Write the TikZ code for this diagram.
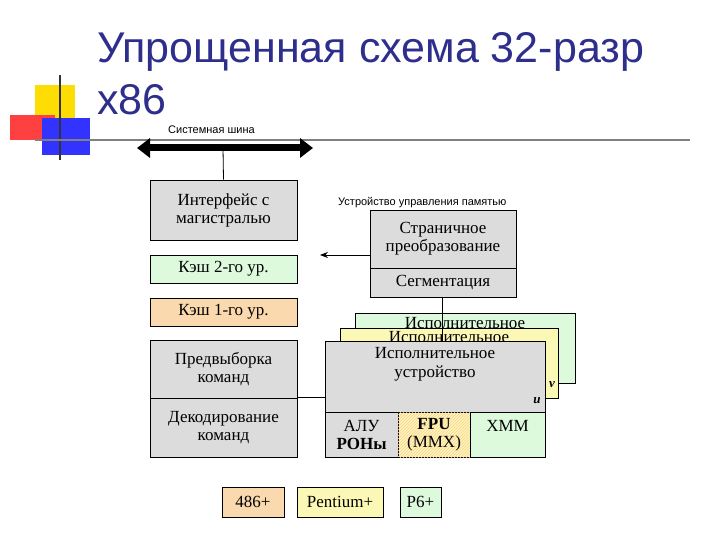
\documentclass[tikz,border=0pt]{standalone}
\usepackage{fontspec}
\setmainfont{Liberation Serif}
\newfontfamily\ttl{Liberation Sans}
\usetikzlibrary{arrows.meta,patterns}
\definecolor{gb}{HTML}{DCDCDC}
\definecolor{gg}{HTML}{DDFADD}
\definecolor{go}{HTML}{FAD9AE}
\definecolor{gy}{HTML}{FBF7B5}
\definecolor{tb}{HTML}{2E2E8C}
\tikzset{bx/.style={draw=black,line width=0.8pt,inner sep=0pt,font=\fontsize{17}{18}\selectfont,align=center},
ln/.style={line width=0.8pt}}
\begin{document}
\begin{tikzpicture}[x=1pt,y=-1pt]
\useasboundingbox (0,0) rectangle (720,540);
% logo
\fill[yellow!80!orange] (35,85) rectangle (75,120);
\fill[red!75] (10,115) rectangle (55,140);
\fill[blue!80] (42,118) rectangle (90,155);
\draw[line width=1.5pt,black!80] (60,75) -- (60,160);
\draw[line width=1.2pt,gray] (35,140) -- (690,140);
\node[anchor=west,text=tb,font=\ttl\fontsize{43}{48}\selectfont,inner sep=0pt] (t1) at (97,52) {Упрощенная схема 32-разр};
\node[anchor=west,text=tb,font=\ttl\fontsize{43}{48}\selectfont,inner sep=0pt] (t2) at (97,100) {x86};
\node[anchor=west,font=\ttl\fontsize{11}{12}\selectfont,inner sep=0pt] (sb) at (168,130) {Системная шина};
\coordinate (bl) at (137,148); \coordinate (br) at (313,148);
\draw[line width=7pt,{Triangle[length=13pt,width=19pt]}-{Triangle[length=13pt,width=19pt]}] (bl) -- (br);
% left column
\node[bx,fill=gb,minimum width=147pt,minimum height=60pt] (if) at (223.5,210) {Интерфейс с\\магистралью};
\coordinate (bm) at (223,148);
\draw[ln] (bm) -- (if.north);
\node[bx,fill=gg,minimum width=147pt,minimum height=28pt] (k2) at (223.5,269) {Кэш 2-го ур.};
\node[bx,fill=go,minimum width=147pt,minimum height=28pt] (k1) at (223.5,312) {Кэш 1-го ур.};
\node[bx,fill=gb,minimum width=147pt,minimum height=58pt] (pv) at (223.5,369) {Предвыборка\\команд};
\node[bx,fill=gb,minimum width=147pt,minimum height=59pt] (dk) at (223.5,427.5) {Декодирование\\команд};
% MMU
\node[anchor=west,font=\ttl\fontsize{11}{12}\selectfont,inner sep=0pt] (mmu) at (338,203) {Устройство управления памятью};
\node[bx,fill=gb,minimum width=146pt,minimum height=58pt] (st) at (443,239) {Страничное\\преобразование};
\node[bx,fill=gb,minimum width=146pt,minimum height=29pt] (sg) at (443,282.5) {Сегментация};
\coordinate (ae) at (320,255);
\draw[ln,-{Stealth[length=8pt]}] (st.west |- 0,255) -- (ae);
% execution units
\node[bx,fill=gg,minimum width=220pt,minimum height=70pt] (e3) at (465,348) {};
\node[font=\fontsize{17}{18}\selectfont,inner sep=0pt] (e3t) at (465,323) {Исполнительное};
\node[bx,fill=gy,minimum width=218pt,minimum height=70pt] (e2) at (449,363) {};
\node[font=\fontsize{17}{18}\selectfont,inner sep=0pt] (e2t) at (449,337) {Исполнительное};
\node[font=\bfseries\itshape\fontsize{13}{13}\selectfont,inner sep=0pt] (e2v) at (552,385) {v};
\draw[ln] (sg.south -| 442,0) -- (442,341);
\node[bx,fill=gb,minimum width=220pt,minimum height=71pt] (e1) at (435,376.5) {};
\node[font=\fontsize{17}{19}\selectfont,align=center,inner sep=0pt] (e1t) at (435,364) {Исполнительное\\устройство};
\node[font=\bfseries\itshape\fontsize{13}{13}\selectfont,inner sep=0pt] (e1u) at (537,401) {u};
\draw[ln] (pv.east |- 0,397) -- (e1.west |- 0,397);
\node[bx,fill=gb,minimum width=73pt,minimum height=45pt] (alu) at (361.5,434.5) {АЛУ\\\textbf{РОНы}};
\node[bx,fill=gy,minimum width=72pt,minimum height=45pt,postaction={pattern=north east lines,pattern color=orange!40}] (fpu) at (434,434.5) {\textbf{FPU}\\(MMX)};
\node[bx,fill=gg,minimum width=75pt,minimum height=45pt] (xmm) at (507.5,434.5) {};
\node[font=\fontsize{17}{18}\selectfont,inner sep=0pt] (xt) at (507.5,426) {XMM};
% legend
\node[bx,fill=go,minimum width=62pt,minimum height=30pt] (l1) at (253,502) {486+};
\node[bx,fill=gy,minimum width=86pt,minimum height=30pt] (l2) at (340,502) {Pentium+};
\node[bx,fill=gg,minimum width=41pt,minimum height=30pt] (l3) at (420.5,502) {P6+};
\end{tikzpicture}
\end{document}
